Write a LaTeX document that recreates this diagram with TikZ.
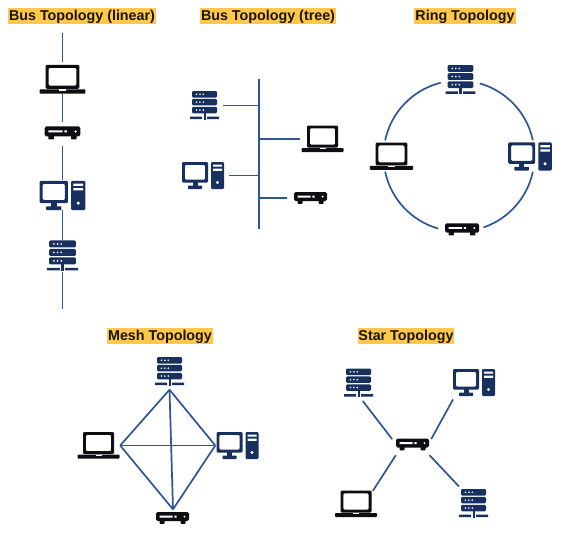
\documentclass[tikz,border=0pt]{standalone}
\usepackage{fontspec}
\setmainfont{Liberation Sans}
\usetikzlibrary{calc}
\definecolor{navy}{HTML}{17305F}
\definecolor{ink}{HTML}{0E0E12}
\definecolor{wire}{HTML}{2F5597}
\definecolor{hilite}{HTML}{FFC84A}
\tikzset{
  x=1pt,y=-1pt,
  title/.style={fill=hilite,inner sep=0pt,minimum height=16pt,text height=11.5pt,text depth=2.5pt,font=\fontsize{14.3}{15}\selectfont\bfseries,text=black!90!hilite},
  iconbox/.style 2 args={inner sep=0pt,minimum width=#1pt,minimum height=#2pt},
  wireline/.style={draw=wire,line width=1.7pt},
  gap/.style 2 args={shorten <=#1pt,shorten >=#2pt},
  laptop/.pic={
    \fill[ink,even odd rule,rounded corners=1.2pt] (-15.5,-13.5) rectangle (15.5,8.5)  (-12.7,-10.7) rectangle (12.7,5.7);
    \fill[ink,rounded corners=0.8pt] (-21,9) rectangle (21,13);
    \fill[white] (-3,9) rectangle (3,10.4);
  },
  router/.pic={
    \fill[ink,rounded corners=1.6pt] (-16.5,-6) rectangle (16.5,3);
    \fill[ink,rounded corners=0.6pt] (-13,2) rectangle (-8,5.8) (8,2) rectangle (13,5.8);
    \fill[white] (-13,-2.4) rectangle (0,-0.5) (1.8,-2.4) rectangle (4,-0.5);
    \fill[white] (12,-1.4) circle (1.1);
  },
  pc/.pic={
    \fill[navy,even odd rule,rounded corners=1.2pt] (-21,-13.5) rectangle (5,7) (-18.2,-10.7) rectangle (2.2,4.2);
    \fill[navy] (-10.5,6) rectangle (-5.5,10.5);
    \fill[navy,rounded corners=0.6pt] (-15,10) rectangle (-1,13.5);
    \fill[navy,rounded corners=1.2pt] (8,-13.5) rectangle (21,13.5);
    \fill[white] (10,-11) rectangle (19,-8.8) (10,-6.8) rectangle (19,-4.6);
    \fill[white] (14.5,7) circle (1.6);
  },
  server/.pic={
    \foreach \t in {-14.5,-6.6,1.3}{
      \fill[navy,rounded corners=1.2pt] (-12.5,\t) rectangle (12.5,\t+6.5);
      \foreach \d in {-8,-4.6,-1.2}{\fill[white] (\d,\t+3.25) circle (0.9);}
    }
    \fill[navy] (-1,7) rectangle (1,14);
    \fill[navy] (-14.5,11) rectangle (-2.5,13.5) (2.5,11) rectangle (14.5,13.5);
  },
}
\begin{document}
\begin{tikzpicture}
\fill[white] (0,0) rectangle (569,552);
\useasboundingbox (0,0) rectangle (569,552);

% titles
\node[title,minimum width=148pt] (t1) at (82,16) {Bus Topology (linear)};
\node[title,minimum width=136pt] (t2) at (268,16) {Bus Topology (tree)};
\node[title,minimum width=102pt] (t3) at (465,16) {Ring Topology};
\node[title,minimum width=106pt] (t4) at (160,335.5) {Mesh Topology};
\node[title,minimum width=96pt] (t5) at (406,335.5) {Star Topology};

% linear bus
\coordinate (ltop) at (62.5,33);
\coordinate (lbot) at (62.5,309);
\node[iconbox={46}{29}] (la) at (62.5,79.5) {};
\node[iconbox={36}{12}] (lb) at (62.5,133) {};
\node[iconbox={46}{29}] (lc) at (62.5,195.5) {};
\node[iconbox={29}{32}] (ld) at (62.5,256) {};
\pic[scale=1.09] at (la) {laptop};
\pic[scale=1.09] at (lb) {router};
\pic[scale=1.09] at (lc) {pc};
\pic[scale=1.07] at (ld) {server};
\draw[wireline,gap={0}{3}] (ltop) -- (la.north);
\draw[wireline,gap={0}{5}] (la.south) -- (lb.north);
\draw[wireline,gap={7}{1}] (lb.south) -- (lc.north);
\draw[wireline] (lc.south) -- (ld.north);
\draw[wireline] (ld.south) -- (lbot);

% tree bus
\coordinate (ttop) at (259.3,79);
\coordinate (tbot) at (259.3,229);
\node[iconbox={28}{28}] (ta) at (204.5,105.5) {};
\node[iconbox={42}{27}] (tb) at (322.5,139) {};
\node[iconbox={42}{27}] (tc) at (203,175.5) {};
\node[iconbox={33}{12}] (td) at (310.5,198) {};
\pic at (ta) {server};
\pic at (tb) {laptop};
\pic at (tc) {pc};
\pic at (td) {router};
\draw[wireline] (ttop) -- (tbot);
\draw[wireline,gap={4}{0}] (ta.east) -- (ta.east -| ttop);
\draw[wireline,gap={1}{0}] (tb.west) -- (tb.west -| ttop);
\draw[wireline,gap={5}{0}] (tc.east) -- (tc.east -| ttop);
\draw[wireline,gap={7}{0}] (td.west) -- (td.west -| ttop);

% ring
\coordinate (rc) at (459,156);
\node[iconbox={29}{30}] (ra) at (460.5,80) {};
\node[iconbox={43}{27}] (rb) at (391.5,156.5) {};
\node[iconbox={44}{27}] (rd) at (530,156.5) {};
\node[iconbox={34}{12}] (re) at (462,229.5) {};
\pic[scale=1.03] at (ra) {server};
\pic[scale=1.03] at (rb) {laptop};
\pic[scale=1.04] at (rd) {pc};
\pic[scale=1.03] at (re) {router};
\draw[wireline] (rc) ++(-104:75.5) arc[start angle=-104,end angle=-168,radius=75.5];
\draw[wireline] (rc) ++(-74:75.5) arc[start angle=-74,end angle=-12,radius=75.5];
\draw[wireline] (rc) ++(12:75.5) arc[start angle=12,end angle=71,radius=75.5];
\draw[wireline] (rc) ++(106:75.5) arc[start angle=106,end angle=168,radius=75.5];

% mesh
\node[iconbox={27}{29}] (ma) at (169.5,371.5) {};
\node[iconbox={41}{27}] (mb) at (98.5,445.5) {};
\node[iconbox={42}{27}] (mc) at (237.5,445.5) {};
\node[iconbox={33}{12}] (md) at (172.5,518) {};
\pic at (ma) {server};
\pic at (mb) {laptop};
\pic at (mc) {pc};
\pic at (md) {router};
\draw[wireline] ($(ma.south)+(0,3.5)$) -- ($(mb.east)+(1,0)$);
\draw[wireline] ($(ma.south)+(0,3.5)$) -- ($(mc.west)+(-1,0)$);
\draw[wireline] ($(ma.south)+(0,3.5)$) -- ($(md.north)+(0.5,-2.5)$);
\draw[wireline] ($(mb.east)+(1,0)$) -- ($(mc.west)+(-1,0)$);
\draw[wireline] ($(mb.east)+(1,0)$) -- ($(md.north)+(0.5,-2.5)$);
\draw[wireline] ($(mc.west)+(-1,0)$) -- ($(md.north)+(0.5,-2.5)$);

% star
\node[iconbox={33}{13}] (hub) at (412.5,444.5) {};
\node[iconbox={27}{30}] (sa) at (358.5,383) {};
\node[iconbox={42}{27}] (sb) at (474,382.5) {};
\node[iconbox={42}{26}] (sc) at (356,504) {};
\node[iconbox={27}{29}] (sd) at (473.5,503.5) {};
\pic at (hub) {router};
\pic at (sa) {server};
\pic at (sb) {pc};
\pic at (sc) {laptop};
\pic at (sd) {server};
\draw[wireline] ($(sa.south)+(4.2,2.7)$) -- ($(hub.north west)+(-3.7,1.3)$);
\draw[wireline] ($(sb.south)+(-21,3.3)$) -- ($(hub.north east)+(2,1.3)$);
\draw[wireline] ($(sc.north east)+(-4.3,0)$) -- ($(hub.south west)+(0,4)$);
\draw[wireline] ($(sd.north)+(-14.5,-2.3)$) -- ($(hub.south east)+(0.3,4)$);
\end{tikzpicture}
\end{document}
